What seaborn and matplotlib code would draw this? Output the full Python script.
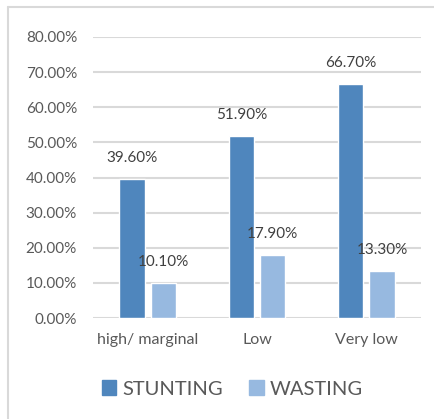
import numpy as np
import pandas as pd
import matplotlib.pyplot as plt
import seaborn as sns
from matplotlib.lines import Line2D
from matplotlib.ticker import PercentFormatter, MultipleLocator

categories = ["high/ marginal", "Low", "Very low"]
stunting = [39.6, 51.9, 66.7]
wasting = [10.1, 17.9, 13.3]
series_names = ["STUNTING", "WASTING"]
colors = ["#4F86BD", "#97B9E0"]

df = pd.DataFrame({
    "category": categories * 2,
    "value": stunting + wasting,
    "series": [series_names[0]] * 3 + [series_names[1]] * 3,
})

sns.set_style("white")
plt.rcParams['font.family'] = ['Lato', 'DejaVu Sans']
text_col = "#595959"

fig = plt.figure(figsize=(4.34, 4.19), dpi=100)
ax = fig.add_axes([0.2143, 0.241, 0.970 - 0.2143, 0.9117 - 0.241])

sns.barplot(data=df, x="category", y="value", hue="series", palette=colors,
            width=0.576, gap=0.2, ax=ax, legend=False, saturation=1)

ax.set_ylim(0, 80)
ax.set_xlim(-0.5, 2.5)
ax.yaxis.set_major_locator(MultipleLocator(10))
ax.yaxis.set_major_formatter(PercentFormatter(decimals=2))
ax.grid(axis='y', color="#D9D9D9", linewidth=1.5)
ax.set_axisbelow(True)
for s in ax.spines.values():
    s.set_visible(False)
ax.tick_params(axis='both', length=0, labelsize=11, labelcolor=text_col)
ax.tick_params(axis='y', pad=11.5)
ax.tick_params(axis='x', labelsize=11.5, pad=10.5)
ax.set_xlabel("")
ax.set_ylabel("")

for cont in ax.containers:
    for bar in cont:
        h = bar.get_height()
        ax.annotate(f"{h:.2f}%", (bar.get_x() + bar.get_width() / 2, h),
                    xytext=(0, 15), textcoords="offset points",
                    ha="center", va="center", fontsize=11, color="#404040")

handles = [plt.Rectangle((0, 0), 1, 1, color=c) for c in colors]
fig.legend(handles, series_names, loc="center", bbox_to_anchor=(0.535, 1 - 389 / 419),
           ncol=2, frameon=False, fontsize=14.5, labelcolor=text_col,
           handlelength=0.72, handleheight=0.72, handletextpad=0.3, columnspacing=1.3)

# chart frame (left and top edges visible)
fig.add_artist(Line2D([8 / 434, 8 / 434], [0, 1 - 7.5 / 419], color="#D9D9D9", lw=1.5))
fig.add_artist(Line2D([8 / 434, 1], [1 - 7.5 / 419, 1 - 7.5 / 419], color="#D9D9D9", lw=1.5))

fig.savefig("out.png", dpi=100)
